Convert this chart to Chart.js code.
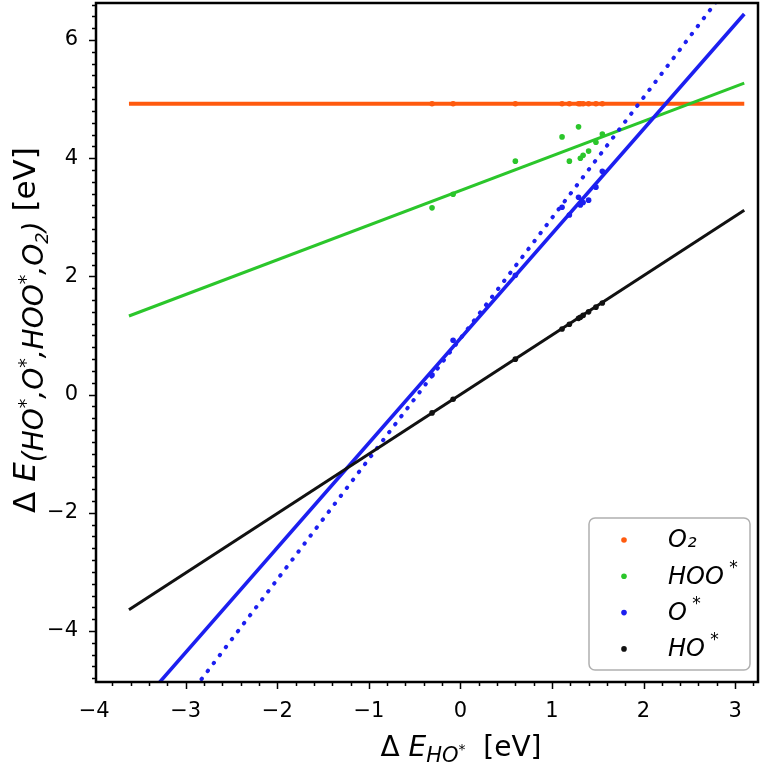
<!DOCTYPE html>
<html>
<head>
<meta charset="utf-8">
<script src="https://cdn.jsdelivr.net/npm/chart.js@4/dist/chart.umd.min.js"></script>
<style>
  html, body { margin: 0; padding: 0; background: #fff; }
  #wrap { width: 767px; height: 762px; }
</style>
</head>
<body>
<div id="wrap"><canvas id="chart" width="767" height="762"></canvas></div>
<script>
// Scatter data: x = ΔE(HO*), y = ΔE of each adsorbate
const hoX  = [-0.31, -0.08, 0.60, 1.11, 1.19, 1.29, 1.31, 1.34, 1.40, 1.48, 1.55];
const hoY  = [-0.31, -0.08, 0.60, 1.11, 1.19, 1.29, 1.31, 1.34, 1.40, 1.48, 1.55];
const oY   = [0.33, 0.92, 2.02, 3.17, 3.04, 3.34, 3.21, 3.25, 3.29, 3.51, 3.78];
const hooY = [3.16, 3.39, 3.95, 4.36, 3.95, 4.53, 4.00, 4.05, 4.12, 4.27, 4.41];
const o2Y  = [4.92, 4.92, 4.92, 4.92, 4.92, 4.92, 4.92, 4.92, 4.92, 4.92, 4.92];

// Fitted lines: end points
const fitX       = [-3.62, 3.10];
const o2Fit      = [4.92, 4.92];
const hooFit     = [1.33, 5.27];
const oFit       = [-5.46, 6.44];
const oFitDotted = [-6.43, 7.27];
const hoFit      = [-3.64, 3.12];

// Axes
const xTicks = [-4, -3, -2, -1, 0, 1, 2, 3];
const yTicks = [-4, -2, 0, 2, 4, 6];
const legendLabels = ['O₂', 'HOO', 'O', 'HO'];
const legendStars  = ['', '*', '*', '*'];

const C_O2 = '#ff5a0e', C_HOO = '#2bc62b', C_O = '#1c1ff0', C_HO = '#111111';

const pts = (xs, ys) => xs.map((x, i) => ({ x, y: ys[i] }));

function pointSet(ys, color) {
  return {
    data: pts(hoX, ys), showLine: false, pointRadius: 2.8, pointHoverRadius: 2.8,
    backgroundColor: color, borderColor: color, borderWidth: 0, order: 0, clip: 0,
  };
}
function lineSet(ys, color, width, extra = {}) {
  return {
    data: pts(fitX, ys), showLine: true, pointRadius: 0, borderColor: color,
    borderWidth: width, backgroundColor: color, clip: 0, ...extra,
  };
}

const minus = v => (v < 0 ? '\u2212' + Math.abs(v) : String(v));

// draws mixed normal / italic / sub / superscript runs
function richWidth(ctx, parts) {
  let w = 0;
  parts.forEach(p => { ctx.font = `${p.it ? 'italic ' : ''}${p.size}px "DejaVu Sans"`; w += ctx.measureText(p.t).width; });
  return w;
}
function drawRich(ctx, parts, x, y) {
  let cx = x;
  parts.forEach(p => {
    ctx.font = `${p.it ? 'italic ' : ''}${p.size}px "DejaVu Sans"`;
    ctx.fillText(p.t, cx, y + (p.dy || 0));
    cx += ctx.measureText(p.t).width;
  });
}

const decor = {
  id: 'decor',
  afterDraw(chart) {
    const { ctx, chartArea: a, scales: { x, y } } = chart;
    ctx.save();
    ctx.strokeStyle = '#000';
    ctx.fillStyle = '#000';

    // ticks, outward
    ctx.lineWidth = 1.5;
    ctx.beginPath();
    for (let i = -20; i <= 16; i++) {
      const v = i / 5, px = Math.round(x.getPixelForValue(v)) + 0.5;
      if (v < x.min - 1e-6 || v > x.max + 1e-6) continue;
      const len = Number.isInteger(v) ? 7 : 4;
      ctx.moveTo(px, a.bottom); ctx.lineTo(px, a.bottom + len);
    }
    for (let i = -24; i <= 33; i++) {
      const v = i / 5, py = Math.round(y.getPixelForValue(v)) + 0.5;
      if (v < y.min - 1e-6 || v > y.max + 1e-6) continue;
      const len = (Number.isInteger(v) && v % 2 === 0) ? 7 : 4;
      ctx.moveTo(a.left, py); ctx.lineTo(a.left - len, py);
    }
    ctx.stroke();

    // frame
    ctx.lineWidth = 2.5;
    ctx.strokeRect(a.left, a.top, a.right - a.left, a.bottom - a.top);

    // x title
    ctx.textBaseline = 'alphabetic';
    const xt = [
      { t: 'Δ ', size: 28 }, { t: 'E', size: 28, it: true },
      { t: 'HO', size: 21, it: true, dy: 6 }, { t: '*', size: 14, it: true, dy: -2 },
      { t: '  [eV]', size: 28 },
    ];
    drawRich(ctx, xt, 461 - richWidth(ctx, xt) / 2, 756);

    // y title (rotated)
    const yt = [
      { t: 'Δ ', size: 31 }, { t: 'E', size: 31, it: true },
      { t: '(HO', size: 28, it: true, dy: 8 }, { t: '*', size: 19, it: true, dy: -3 },
      { t: ',O', size: 28, it: true, dy: 8 }, { t: '*', size: 19, it: true, dy: -3 },
      { t: ',HOO', size: 28, it: true, dy: 8 }, { t: '*', size: 19, it: true, dy: -3 },
      { t: ',O', size: 28, it: true, dy: 8 }, { t: '2', size: 18, it: true, dy: 13 },
      { t: ')', size: 28, it: true, dy: 8 },
      { t: ' [eV]', size: 31 },
    ];
    ctx.save();
    ctx.translate(35, 330);
    ctx.rotate(-Math.PI / 2);
    drawRich(ctx, yt, -richWidth(ctx, yt) / 2, 0);
    ctx.restore();

    // legend box, lower right
    const lx = a.right - 169, ly = a.bottom - 164, lw = 161, lh = 152, r = 6;
    ctx.lineWidth = 1.5;
    ctx.strokeStyle = '#b0b0b0';
    ctx.fillStyle = 'rgba(255,255,255,0.85)';
    ctx.beginPath();
    ctx.roundRect(lx, ly, lw, lh, r);
    ctx.fill(); ctx.stroke();
    const colors = [C_O2, C_HOO, C_O, C_HO];
    legendLabels.forEach((lab, i) => {
      const cy = ly + 22 + i * 36.3;
      ctx.fillStyle = colors[i];
      ctx.beginPath(); ctx.arc(lx + 35, cy, 2.8, 0, Math.PI * 2); ctx.fill();
      ctx.fillStyle = '#000';
      ctx.textBaseline = 'middle';
      const parts = [{ t: lab, size: 24, it: true }];
      if (legendStars[i]) parts.push({ t: ' ' + legendStars[i], size: 17, it: true, dy: -9 });
      drawRich(ctx, parts, lx + 79, cy + 1);
    });
    ctx.restore();
  },
};

new Chart(document.getElementById('chart'), {
  type: 'scatter',
  data: {
    datasets: [
      pointSet(o2Y, C_O2),
      pointSet(hooY, C_HOO),
      pointSet(oY, C_O),
      pointSet(hoY, C_HO),
      lineSet(hoFit, C_HO, 3, { order: 1 }),
      lineSet(oFit, C_O, 3.6, { order: 2 }),
      lineSet(oFitDotted, C_O, 4, { order: 3, borderDash: [0.5, 9.5], borderCapStyle: 'round' }),
      lineSet(hooFit, C_HOO, 3, { order: 4 }),
      lineSet(o2Fit, C_O2, 4, { order: 5 }),
    ],
  },
  options: {
    responsive: false,
    animation: false,
    events: [],
    layout: { padding: { top: 3, right: 9, left: 0, bottom: 0 } },
    plugins: { legend: { display: false }, tooltip: { enabled: false } },
    scales: {
      x: {
        type: 'linear', min: -3.98, max: 3.25,
        grid: { display: false }, border: { display: false },
        afterBuildTicks: s => { s.ticks = xTicks.map(v => ({ value: v })); },
        afterFit: s => { s.height = 80; s.paddingLeft = 0; s.paddingRight = 0; },
        ticks: { color: '#000', padding: 9, font: { size: 21, family: 'DejaVu Sans' }, callback: minus, maxRotation: 0 },
      },
      y: {
        type: 'linear', min: -4.863, max: 6.626,
        grid: { display: false }, border: { display: false },
        afterBuildTicks: s => { s.ticks = yTicks.map(v => ({ value: v })); },
        afterFit: s => { s.width = 96; s.paddingTop = 0; s.paddingBottom = 0; },
        ticks: { color: '#000', padding: 10, font: { size: 21, family: 'DejaVu Sans' }, callback: minus },
      },
    },
  },
  plugins: [decor],
});
</script>
</body>
</html>
